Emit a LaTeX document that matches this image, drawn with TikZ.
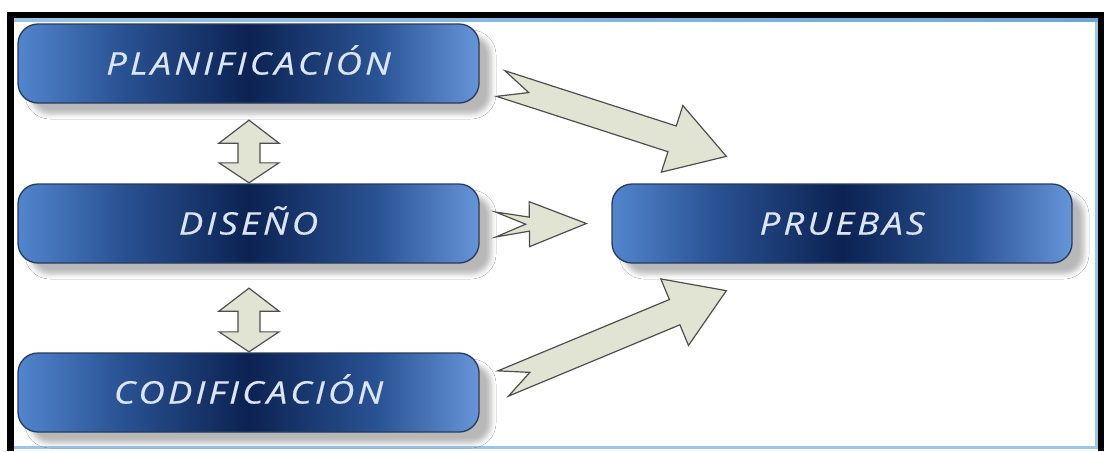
\documentclass[tikz,border=0pt]{standalone}
\usepackage{fontspec}
\setmainfont{Open Sans}
\usetikzlibrary{calc,shadows.blur}

\definecolor{boxL}{HTML}{5285CE}
\definecolor{boxM}{HTML}{2A5394}
\definecolor{boxD}{HTML}{0C2252}
\definecolor{boxR}{HTML}{6695D8}
\definecolor{boxEdge}{HTML}{263C5C}
\definecolor{boxText}{HTML}{DCE5F4}
\definecolor{arrowFill}{HTML}{E1E4D3}
\definecolor{arrowEdge}{HTML}{4E4E4E}
\definecolor{panelLine}{HTML}{9CC6E8}
\definecolor{panelTop}{HTML}{6FA6DA}

% light - dark - light stripe across each box
\pgfdeclarehorizontalshading{boxshade}{100bp}{color(0bp)=(boxL); color(25bp)=(boxL);
  color(36bp)=(boxM); color(50bp)=(boxD); color(64bp)=(boxM); color(75bp)=(boxR); color(100bp)=(boxR)}

\tikzset{
  box/.style={rounded corners=20pt, draw=boxEdge, line width=1.3pt, shading=boxshade,
    minimum width=461pt, minimum height=79pt, inner sep=0pt, text=boxText,
    text height=22pt, text depth=0pt,
    font=\fontsize{31}{31}\selectfont\itshape\addfontfeatures{FakeStretch=1.18, LetterSpace=10, FakeBold=0.4},
    blur shadow={shadow xshift=12pt, shadow yshift=-11pt, shadow blur radius=5pt, shadow opacity=28}},
  blockarrow/.style={fill=arrowFill, draw=arrowEdge, line width=1.2pt, line join=miter}
}

% notched block arrow: tail, tip, tail half-width, shaft half-width,
% head half-width, head length, notch depth
\newcommand\notcharrow[7]{%
  \draw[blockarrow]
    ($(#1)!#3!90:(#2)$) -- ($(#2)!#6!(#1)!#4!-90:(#1)$) -- ($(#2)!#6!(#1)!#5!-90:(#1)$)
    -- (#2) -- ($(#2)!#6!(#1)!#5!90:(#1)$) -- ($(#2)!#6!(#1)!#4!90:(#1)$)
    -- ($(#1)!#3!-90:(#2)$) -- ($(#1)!#7!(#2)$) -- cycle;}

% vertical double-headed block arrow between two tips
\newcommand\twowayarrow[2]{%
  \draw[blockarrow] (#1) -- ($(#1)+(30,23)$) -- ($(#1)+(11,23)$) -- ($(#2)+(11,-20)$)
    -- ($(#2)+(30,-20)$) -- (#2) -- ($(#2)+(-30,-20)$) -- ($(#2)+(-11,-20)$)
    -- ($(#1)+(-11,23)$) -- ($(#1)+(-30,23)$) -- cycle;}

\begin{document}
\begin{tikzpicture}[x=1pt, y=-1pt]
  \useasboundingbox (0,0) rectangle (1104,451);
  \fill[white] (0,0) rectangle (1104,451);

  % black frame and inner panel
  \fill[black] (7,12) rectangle (1104,451);
  \fill[white] (14,18) rectangle (1098,451);
  \draw[panelLine, line width=3pt] (1096.5,19.5) -- (1096.5,447.5) -- (14,447.5);
  \fill[left color=panelLine, right color=panelTop] (14,18) rectangle (1098,21.5);

  % phases
  \node[box] (plan) at (248.5,63.5) {PLANIFICACIÓN};
  \node[box] (dis)  at (248.5,223.5) {DISEÑO};
  \node[box] (cod)  at (248.5,392.5) {CODIFICACIÓN};
  \node[box, minimum width=460pt] (prue) at (842,223.5) {PRUEBAS};

  % arrow end points
  \coordinate (a1s) at ($(plan.east)+(21,20)$);
  \coordinate (a1e) at ($(prue.north west)+(115,-27)$);
  \coordinate (a2s) at ($(dis.east)+(16,1)$);
  \coordinate (a2e) at ($(prue.west)+(-25,0)$);
  \coordinate (a3s) at ($(cod.east)+(23.5,-9)$);
  \coordinate (a3e) at ($(prue.south west)+(115,27)$);
  \coordinate (d1t) at ($(plan.south)+(0.5,16.5)$);
  \coordinate (d1b) at ($(dis.north)+(0.5,-0.5)$);
  \coordinate (d2t) at ($(dis.south)+(0.5,24.5)$);
  \coordinate (d2b) at ($(cod.north)+(0.5,-0.5)$);

  \notcharrow{a1s}{a1e}{13.5pt}{13.5pt}{35pt}{57pt}{29.5pt}
  \notcharrow{a2s}{a2e}{12.5pt}{7pt}{22.5pt}{57pt}{30pt}
  \notcharrow{a3s}{a3e}{13.7pt}{13.7pt}{36pt}{56pt}{29pt}

  \twowayarrow{d1t}{d1b}
  \twowayarrow{d2t}{d2b}
\end{tikzpicture}
\end{document}
